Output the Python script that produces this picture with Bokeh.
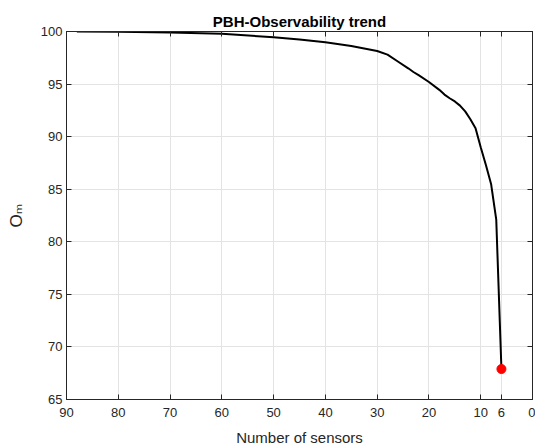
import math
from bokeh.plotting import figure
from bokeh.models import Range1d, FixedTicker, LinearAxis
from bokeh.embed import file_html
from bokeh.resources import INLINE

# data
sensors = [88, 80, 70, 60, 50, 45, 40, 35, 30, 28, 26, 24, 23, 22, 20, 18, 17, 16, 15, 14, 13, 12, 11, 10, 9, 8, 7, 6]
om = [100.0, 99.97, 99.9, 99.78, 99.46, 99.25, 98.98, 98.62, 98.15, 97.8, 97.15, 96.5, 96.15, 95.85,
      95.2, 94.45, 94.0, 93.65, 93.35, 92.95, 92.4, 91.65, 90.8, 89.0, 87.3, 85.5, 82.1, 67.9]
final_x = [6]
final_y = [67.9]
x_ticks = [90, 80, 70, 60, 50, 40, 30, 20, 10, 6, 0]
y_ticks = [65, 70, 75, 80, 85, 90, 95, 100]

FONT = "Liberation Sans"
AX = "#262626"

p = figure(width=535, height=448, output_backend="svg", toolbar_location=None,
           x_range=Range1d(90, 0), y_range=Range1d(65, 100),
           min_border_left=66, min_border_right=3, min_border_top=31, min_border_bottom=49,
           title="PBH-Observability trend")
p.title.text_font = FONT
p.title.text_font_size = "15px"
p.title.text_font_style = "bold"
p.title.text_color = "#000000"
p.title.align = "center"
p.title.standoff = 4

p.outline_line_color = AX
p.background_fill_color = "white"
p.border_fill_color = "white"

for ax in (p.xaxis[0], p.yaxis[0]):
    ax.major_label_text_font = FONT
    ax.major_label_text_font_size = "13px"
    ax.major_label_text_color = AX
    ax.axis_line_color = AX
    ax.major_tick_line_color = AX
    ax.major_tick_in = 5
    ax.major_tick_out = 0
    ax.minor_tick_line_color = None
    ax.axis_label_text_font = FONT
    ax.axis_label_text_font_size = "15px"
    ax.axis_label_text_font_style = "normal"
    ax.axis_label_text_color = AX

p.xaxis.ticker = FixedTicker(ticks=x_ticks)
p.yaxis.ticker = FixedTicker(ticks=y_ticks)
p.xaxis.axis_label = "Number of sensors"
p.xaxis.axis_label_standoff = 9
p.xaxis.major_label_standoff = 8
p.yaxis.major_label_standoff = 4
p.yaxis.axis_label = "O\u2098"
p.yaxis.axis_label_text_font = "Liberation Sans, DejaVu Sans"
p.yaxis.axis_label_text_font_size = "17px"
p.yaxis.axis_label_standoff = 12

p.xgrid.ticker = FixedTicker(ticks=x_ticks)
p.ygrid.ticker = FixedTicker(ticks=y_ticks)
p.grid.grid_line_color = "#e3e3e3"
p.grid.grid_line_width = 1

top = LinearAxis(ticker=FixedTicker(ticks=x_ticks), major_label_text_color=None,
                 major_tick_in=5, major_tick_out=0, axis_line_color=AX, major_tick_line_color=AX,
                 minor_tick_line_color=None, major_label_standoff=0)
right = LinearAxis(ticker=FixedTicker(ticks=y_ticks), major_label_text_color=None,
                   major_tick_in=5, major_tick_out=0, axis_line_color=AX, major_tick_line_color=AX,
                   minor_tick_line_color=None, major_label_standoff=0)
p.add_layout(top, "above")
p.add_layout(right, "right")

p.line(sensors, om, line_color="black", line_width=2)
p.scatter(final_x, final_y, size=9, color="red", line_color="red")

open("out.html", "w").write(file_html(p, INLINE))
